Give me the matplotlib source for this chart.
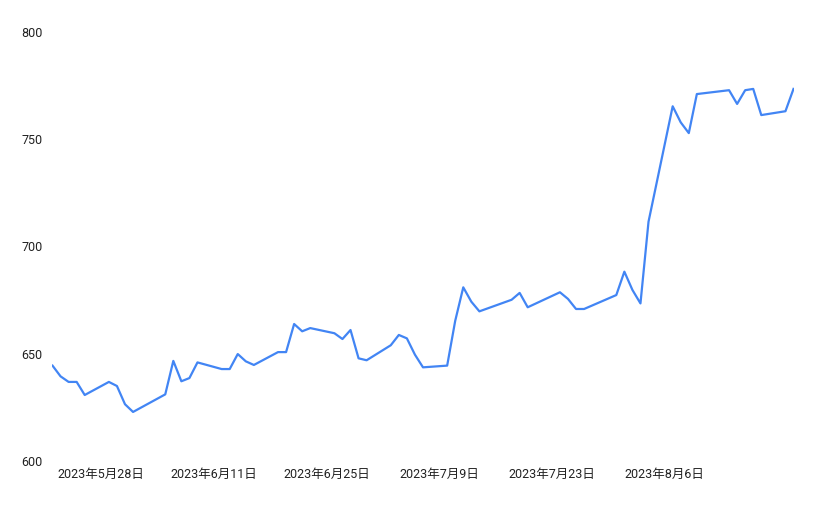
import pandas as pd
import matplotlib
matplotlib.use("Agg")
import matplotlib.pyplot as plt
import matplotlib.dates as mdates

plt.rcParams["font.family"] = ["Roboto", "Noto Sans CJK JP", "DejaVu Sans"]

# trading days (Japanese market) and closing values
dates = [
    "2023-05-22", "2023-05-23", "2023-05-24", "2023-05-25", "2023-05-26",
    "2023-05-29", "2023-05-30", "2023-05-31", "2023-06-01",
    "2023-06-05", "2023-06-06", "2023-06-07", "2023-06-08", "2023-06-09",
    "2023-06-12", "2023-06-13", "2023-06-14", "2023-06-15", "2023-06-16",
    "2023-06-19", "2023-06-20", "2023-06-21", "2023-06-22", "2023-06-23",
    "2023-06-26", "2023-06-27", "2023-06-28", "2023-06-29", "2023-06-30",
    "2023-07-03", "2023-07-04", "2023-07-05", "2023-07-06", "2023-07-07",
    "2023-07-10", "2023-07-11", "2023-07-12", "2023-07-13", "2023-07-14",
    "2023-07-18", "2023-07-19", "2023-07-20",
    "2023-07-24", "2023-07-25", "2023-07-26", "2023-07-27",
    "2023-07-31", "2023-08-01", "2023-08-02", "2023-08-03", "2023-08-04",
    "2023-08-07", "2023-08-08", "2023-08-09", "2023-08-10",
    "2023-08-14", "2023-08-15", "2023-08-16", "2023-08-17", "2023-08-18",
    "2023-08-21", "2023-08-22",
]
values = [
    644.0, 639.0, 636.4, 636.4, 630.3,
    636.4, 634.5, 626.0, 622.4,
    630.6, 646.2, 636.7, 638.2, 645.5,
    642.4, 642.4, 649.4, 646.0, 644.3,
    650.3, 650.3, 663.4, 660.0, 661.5,
    659.1, 656.4, 660.6, 647.4, 646.5,
    653.5, 658.3, 656.7, 649.1, 643.2,
    644.0, 664.9, 680.5, 673.8, 669.3,
    674.7, 677.9, 671.2,
    678.2, 675.1, 670.4, 670.4,
    676.9, 687.8, 679.3, 673.0, 711.1,
    764.9, 757.4, 752.4, 770.6,
    772.4, 766.0, 772.4, 773.0, 760.8,
    762.6, 773.0,
]
tick_dates = ["2023-05-28", "2023-06-11", "2023-06-25", "2023-07-09", "2023-07-23", "2023-08-06"]
y_ticks = [600, 650, 700, 750, 800]

df = pd.DataFrame({"date": pd.to_datetime(dates), "value": values})
ticks = pd.to_datetime(tick_dates)

fig = plt.figure(figsize=(8.19, 5.06), dpi=100)
ax = fig.add_axes([52.5 / 819, 45 / 506, 741 / 819, 429 / 506])

ax.plot(df["date"], df["value"], color="#4285F4", linewidth=1.6)

ax.set_xlim(df["date"].iloc[0], df["date"].iloc[-1])
ax.set_ylim(600, 800)
ax.set_yticks(y_ticks)
ax.set_xticks(ticks)
ax.set_xticklabels([f"{d.year}年{d.month}月{d.day}日" for d in ticks])

for s in ax.spines.values():
    s.set_visible(False)
ax.tick_params(axis="both", length=0, labelsize=9, colors="#222222")
ax.tick_params(axis="y", pad=7)
ax.tick_params(axis="x", pad=5)

fig.savefig("out.png", dpi=100)
